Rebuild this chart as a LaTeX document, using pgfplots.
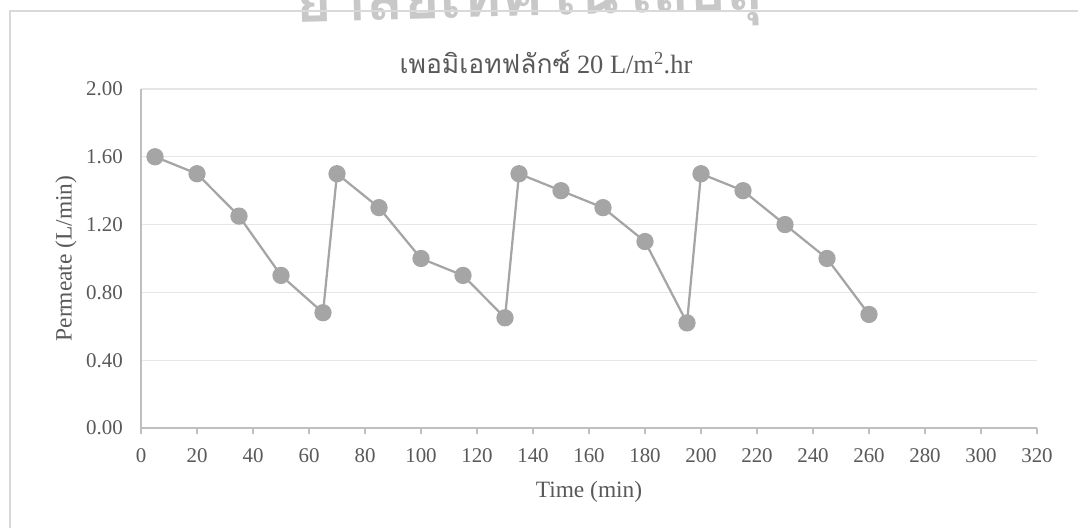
\documentclass[border=0pt]{standalone}
\usepackage{fontspec}
\setmainfont{Liberation Serif}
\newfontfamily\thaifont[Script=Thai]{Loma}
\usepackage{pgfplots}
\pgfplotsset{compat=1.18}

\definecolor{txt}{HTML}{595959}
\definecolor{ser}{HTML}{A5A5A5}
\definecolor{gridc}{HTML}{E6E6E6}
\definecolor{axisc}{HTML}{BFBFBF}
\definecolor{framec}{HTML}{D9D9D9}
\definecolor{wm}{HTML}{C8C8C8}

\begin{document}
\begin{tikzpicture}[x=1bp,y=1bp]
\useasboundingbox (0,0) rectangle (1078,528);
% faint watermark lettering along the top edge
\begin{scope}
\clip (0,0) rectangle (1078,528);
\node[rotate=1.5, text=wm, anchor=base, inner sep=0pt,
      font=\thaifont\bfseries\fontsize{62}{62}\selectfont] at (530,512) {ยาลัยเทคโนโลยีสุ};
\end{scope}
% chart frame
\draw[framec, line width=1.2bp] (10,0) -- (10,517) -- (1078,517);
% title
\node[anchor=base, text=txt, inner sep=0pt, font=\fontsize{26.5}{26.5}\selectfont]
  at (546,454) {{\thaifont เพอมิเอทฟลักซ์} 20 L/m\textsuperscript{2}.hr};
\begin{axis}[
  at={(141bp,100bp)}, anchor=south west,
  scale only axis, width=896bp, height=339bp,
  xmin=0, xmax=320, ymin=0, ymax=2,
  xtick={0,20,...,320},
  ytick={0,0.4,0.8,1.2,1.6,2.0},
  axis lines*=left,
  axis line style={draw=axisc, line width=1.2bp, -},
  xtick align=outside, ytick align=inside,
  major tick length=6bp,
  xtick style={draw=axisc, line width=1.2bp},
  ytick style={draw=none},
  ymajorgrids, grid style={draw=gridc, line width=1.2bp},
  /pgf/number format/assume math mode=true,
  yticklabel style={/pgf/number format/fixed, /pgf/number format/fixed zerofill,
                    /pgf/number format/precision=2},
  every tick label/.append style={text=txt, font=\fontsize{21}{21}\selectfont},
  yticklabel style={anchor=east, inner sep=0pt, xshift=-18bp},
  xticklabel style={anchor=north, inner sep=0pt, yshift=-14bp},
  xlabel={Time (min)}, ylabel={Permeate (L/min)},
  label style={text=txt, font=\fontsize{23.5}{23.5}\selectfont},
  xlabel style={at={(axis description cs:0.5,-0.1888)}, anchor=center},
  ylabel style={at={(axis description cs:-0.0837,0.5)}, anchor=center},
]
\addplot[ser, line width=2.25bp, mark=*, mark size=7.5bp,
         mark options={fill=ser, draw=none}] coordinates {
  (5,1.60) (20,1.50) (35,1.25) (50,0.90) (65,0.68)
  (70,1.50) (85,1.30) (100,1.00) (115,0.90) (130,0.65)
  (135,1.50) (150,1.40) (165,1.30) (180,1.10) (195,0.62)
  (200,1.50) (215,1.40) (230,1.20) (245,1.00) (260,0.67)
};
\end{axis}
\end{tikzpicture}
\end{document}
